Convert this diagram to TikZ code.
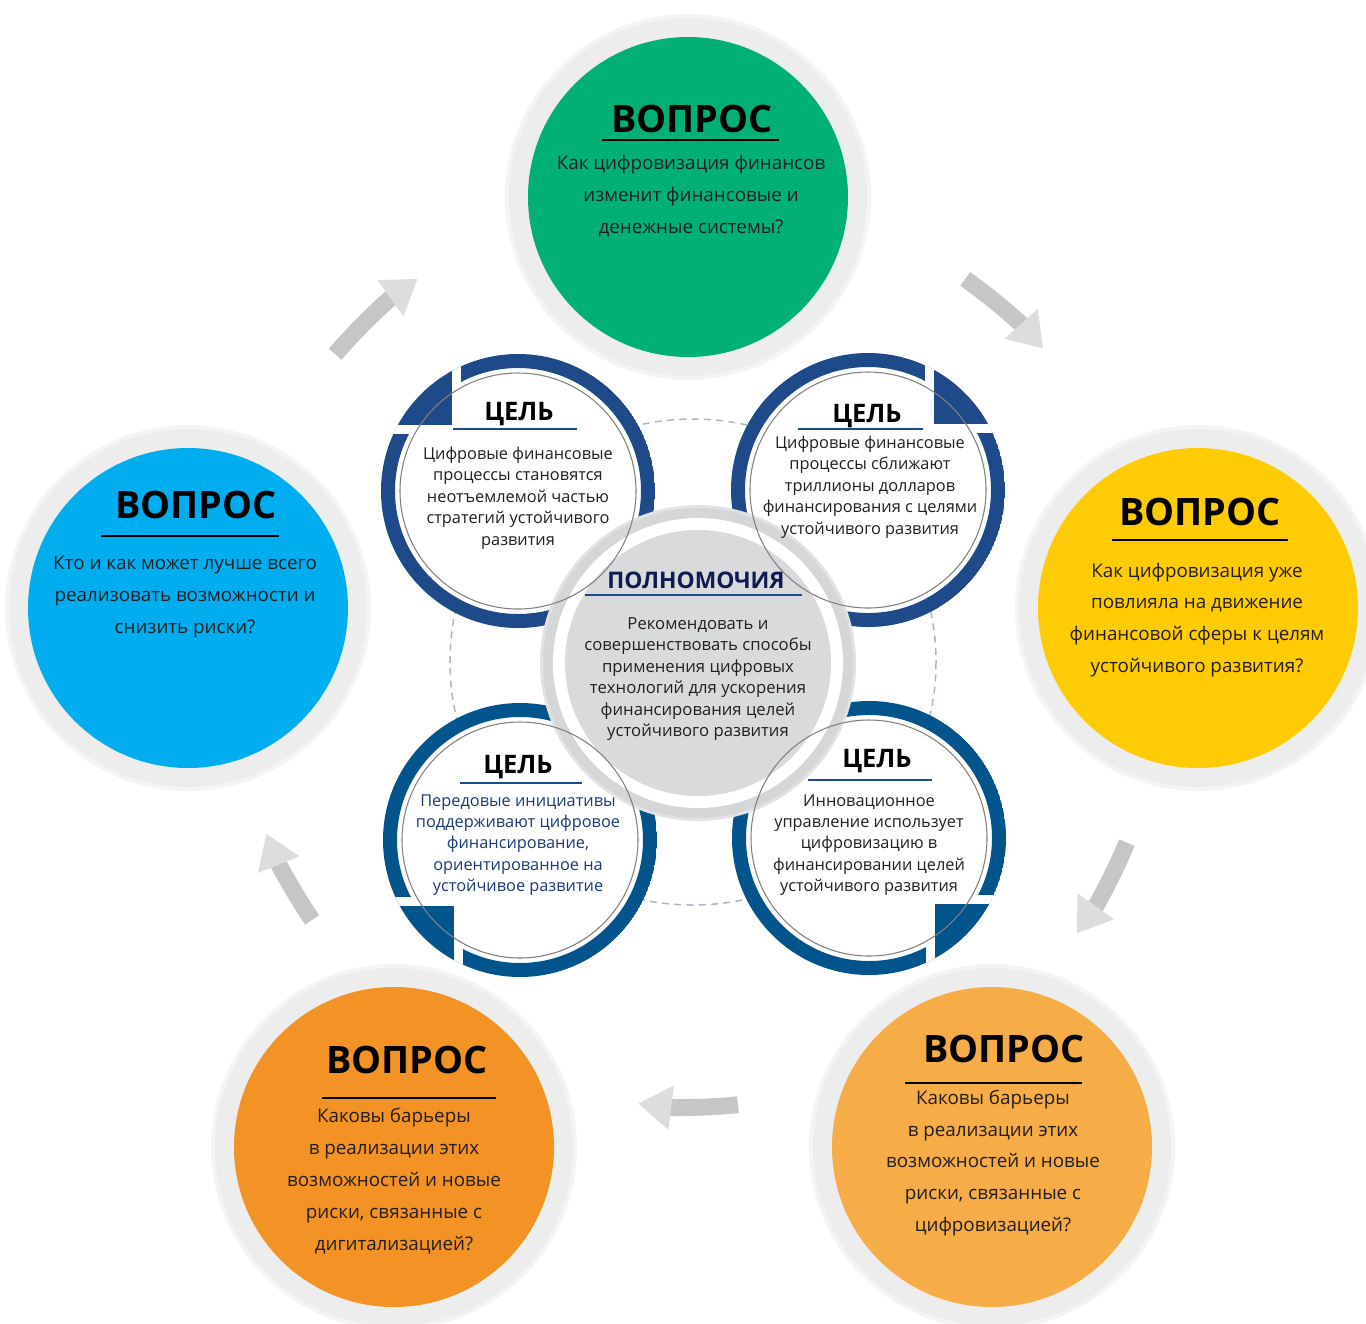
\documentclass[tikz,border=0pt]{standalone}
\usepackage{fontspec}
\setmainfont{Open Sans}
\usetikzlibrary{arrows.meta}
\definecolor{qGreen}{HTML}{00B074}
\definecolor{qBlue}{HTML}{00AEEF}
\definecolor{qYellow}{HTML}{FFCB05}
\definecolor{qOrange}{HTML}{F39325}
\definecolor{qPeach}{HTML}{F6AC47}
\definecolor{ringTop}{HTML}{1F4A89}
\definecolor{ringBottom}{HTML}{02558C}
\definecolor{navyText}{HTML}{1B3B78}
\definecolor{powerNavy}{HTML}{0F1A50}
\definecolor{bodyText}{HTML}{231F20}
\definecolor{discGray}{HTML}{D9DADB}
\definecolor{haloGray}{HTML}{D5D6D8}
\definecolor{shadowGray}{HTML}{EDEDED}
\definecolor{dashGray}{HTML}{A9B7C2}
\definecolor{arrowBody}{HTML}{C5C6C8}
\definecolor{arrowHead}{HTML}{DDDDDE}
\tikzset{
    question/.pic={
		\fill[shadowGray!60] (0,0) circle (183);
		\fill[shadowGray] (0,0) circle (179);
		\fill[#1] (0,0) circle (160);
	}
}
\tikzset{
    goalRing/.pic={
		\fill[white] (0,0) circle (137);
		\begin{scope}
			\clip (0,0) circle (137);
			\fill[#1, even odd rule] (0,0) circle (137) (0,0) circle (123);
			\fill[white] (-57,-57) rectangle (-140,-140);
			\fill[#1] (-66,-66) rectangle (-140,-140);
		\end{scope}
	}
}
\tikzset{
    qHead/.style={inner sep=0, anchor=base, font=\fontsize{21.5}{25}\selectfont\bfseries},
    qText/.style={inner sep=0, align=center, text=bodyText, font=\fontsize{10.7}{18.1}\selectfont},
    qRule/.style={line width=1.1pt},
    goalHead/.style={inner sep=0, anchor=base, font=\fontsize{14.5}{17}\selectfont\bfseries},
    goalText/.style={inner sep=0, align=center, text=bodyText, font=\fontsize{9.3}{12.2}\selectfont},
    goalRule/.style={line width=0.8pt, ringTop},
    loopArrow/.style={line width=9.6pt, arrowBody, -{Triangle[length=19pt, width=24pt, color=arrowHead]}}
}

\begin{document}
\begin{tikzpicture}[x=0.02cm, y=-0.02cm]
	\useasboundingbox (0,0) rectangle (1366,1323);
	\coordinate (hub) at (693,662);
	\coordinate (core) at (698,663);
	\draw[dashGray, line width=0.85pt, dash pattern=on 4pt off 3pt] (hub) circle (243);
	% questions
	\pic at (688,197) {question={qGreen}};
	\pic at (188,608) {question={qBlue}};
	\pic at (1198,608) {question={qYellow}};
	\pic at (394,1147) {question={qOrange}};
	\pic at (992,1147) {question={qPeach}};
	% loop arrows
	\draw[loopArrow] ([shift={(-139.3:472)}]hub) arc[start angle=-139.3, end angle=-125.7, radius=472];
	\draw[loopArrow] ([shift={(-54.6:470)}]hub) arc[start angle=-54.6, end angle=-41.8, radius=470];
	\draw[loopArrow] ([shift={(22.6:470)}]hub) arc[start angle=22.6, end angle=35.3, radius=470];
	\draw[loopArrow] ([shift={(84.2:445)}]hub) arc[start angle=84.2, end angle=97.1, radius=445];
	\draw[loopArrow] ([shift={(145.9:460)}]hub) arc[start angle=145.9, end angle=158.1, radius=460];
	% goals
	\pic at (518,491) {goalRing={ringTop}};
	\pic[rotate=-90] at (868,490) {goalRing={ringTop}};
	\pic[rotate=90] at (520,840) {goalRing={ringBottom}};
	\pic[rotate=180] at (869,838) {goalRing={ringBottom}};
	\fill[haloGray!70] (core) circle (158);
	\fill[haloGray] (core) circle (155);
	\fill[white] (core) circle (145);
	\fill[discGray] (core) circle (133);
	\foreach \x/\y in {518/491, 868/490, 520/840, 869/838}
		\draw[gray, line width=0.6pt] (\x,\y) circle (118);

	\node[qHead] (greenHead) at (692,132) {ВОПРОС};
	\draw[qRule] (602,140) -- (779,140);
	\node[qText] (greenText) at (691,196) {Как цифровизация финансов\\изменит финансовые и\\денежные системы?};
	\node[qHead] (blueHead) at (196,518) {ВОПРОС};
	\draw[qRule] (101,536) -- (279,536);
	\node[qText] (blueText) at (185,597) {Кто и как может лучше всего\\реализовать возможности и\\снизить риски?};
	\node[qHead] (yellowHead) at (1200,525) {ВОПРОС};
	\draw[qRule] (1112,540) -- (1288,540);
	\node[qText] (yellowText) at (1197,620) {Как цифровизация уже\\повлияла на движение\\финансовой сферы к целям\\устойчивого развития?};
	\node[qHead] (orangeHead) at (407,1073) {ВОПРОС};
	\draw[qRule] (322,1098) -- (496,1098);
	\node[qText] (orangeText) at (394,1181) {Каковы барьеры\\в реализации этих\\возможностей и новые\\риски, связанные с\\дигитализацией?};
	\node[qHead] (peachHead) at (1004,1062) {ВОПРОС};
	\draw[qRule] (905,1083) -- (1082,1083);
	\node[qText] (peachText) at (993,1163) {Каковы барьеры\\в реализации этих\\возможностей и новые\\риски, связанные с\\цифровизацией?};

	\node[goalHead] (goalHeadA) at (519,420) {ЦЕЛЬ};
	\draw[goalRule] (453,429) -- (577,429);
	\node[goalText] (goalTextA) at (518,498) {Цифровые финансовые\\процессы становятся\\неотъемлемой частью\\стратегий устойчивого\\развития};
	\node[goalHead] (goalHeadB) at (867,422) {ЦЕЛЬ};
	\draw[goalRule] (798,429) -- (923,429);
	\node[goalText] (goalTextB) at (870,487) {Цифровые финансовые\\процессы сближают\\триллионы долларов\\финансирования с целями\\устойчивого развития};
	\node[goalHead] (goalHeadC) at (518,773) {ЦЕЛЬ};
	\draw[goalRule] (460,783) -- (582,783);
	\node[goalText, text=navyText] (goalTextC) at (518,845) {Передовые инициативы\\поддерживают цифровое\\финансирование,\\ориентированное на\\устойчивое развитие};
	\node[goalHead] (goalHeadD) at (877,767) {ЦЕЛЬ};
	\draw[goalRule] (808,780) -- (932,780);
	\node[goalText] (goalTextD) at (869,845) {Инновационное\\управление использует\\цифровизацию в\\финансировании целей\\устойчивого развития};

	\node[inner sep=0, anchor=base, text=powerNavy, font=\fontsize{13}{15}\selectfont\bfseries] (powerHead) at (696,588) {ПОЛНОМОЧИЯ};
	\draw[goalRule] (585,595) -- (802,595);
	\node[goalText, font=\fontsize{9.5}{12.2}\selectfont] (powerText) at (698,679) {Рекомендовать и\\совершенствовать способы\\применения цифровых\\технологий для ускорения\\финансирования целей\\устойчивого развития};
\end{tikzpicture}
\end{document}
